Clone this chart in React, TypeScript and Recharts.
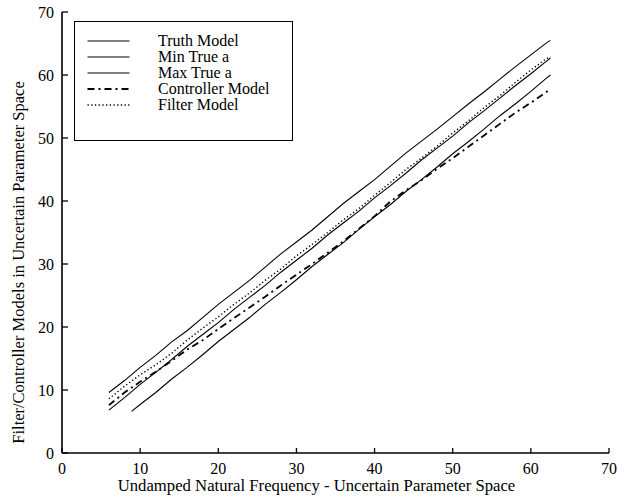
import React from 'react';
import { LineChart, Line, XAxis, YAxis, Legend, Label } from 'recharts';

const SERIF = '"Liberation Serif", "Times New Roman", serif';

const axisTicks = [0, 10, 20, 30, 40, 50, 60, 70];

// frequencies shared by the truth / max / controller / filter traces
const modelFreqs = [
  6, 8, 10, 12, 14, 16, 18, 20, 22, 24, 26, 28, 30, 32, 34, 36, 38, 40, 42, 44,
  46, 48, 50, 52, 54, 56, 58, 60, 62, 62.5,
];

const truthModel = [
  6.8, 8.8, 10.9, 12.8, 14.8, 16.9, 18.8, 20.7, 22.8, 24.7, 26.6, 28.7, 30.6, 32.5, 34.6,
  36.5, 38.4, 40.5, 42.4, 44.4, 46.5, 48.4, 50.3, 52.4, 54.3, 56.3, 58.3, 60.2, 62.2, 62.7,
];

const maxTrueA = [
  9.6, 11.5, 13.6, 15.5, 17.6, 19.4, 21.5, 23.6, 25.5, 27.4, 29.5, 31.6, 33.5, 35.4, 37.5,
  39.6, 41.5, 43.4, 45.5, 47.6, 49.5, 51.4, 53.4, 55.4, 57.3, 59.3, 61.3, 63.2, 65.1, 65.5,
];

const controllerModel = [
  7.6, 9.6, 11.3, 12.9, 14.6, 16.4, 17.9, 19.7, 21.4, 23.1, 24.8, 26.6, 28.3, 30.0, 31.8,
  33.6, 35.6, 37.6, 39.9, 41.7, 43.3, 45.1, 46.8, 48.6, 50.4, 52.2, 54.0, 55.6, 57.3, 57.8,
];

const filterModel = [
  8.6, 10.6, 12.4, 14.0, 15.8, 17.9, 19.8, 21.6, 23.6, 25.4, 27.4, 29.2, 31.3, 33.1, 35.0,
  37.0, 38.8, 40.9, 42.9, 45.0, 46.8, 48.7, 50.8, 52.7, 54.8, 56.7, 58.8, 60.8, 62.6, 62.9,
];

// the lower bound starts a little later
const minTrueFreqs = [
  8.9, 10, 12, 14, 16, 18, 20, 22, 24, 26, 28, 30, 32, 34, 36, 38, 40, 42, 44, 46, 48, 50,
  52, 54, 56, 58, 60, 62, 62.5,
];

const minTrueA = [
  6.6, 7.7, 9.6, 11.7, 13.6, 15.6, 17.7, 19.6, 21.5, 23.6, 25.5, 27.5, 29.6, 31.5, 33.4,
  35.5, 37.5, 39.4, 41.5, 43.4, 45.4, 47.5, 49.4, 51.4, 53.5, 55.4, 57.4, 59.5, 60.0,
];

const toPoints = (xs: number[], ys: number[]) => xs.map((x, i) => ({ x, y: ys[i] }));

const series = [
  { name: 'Truth Model', data: toPoints(modelFreqs, truthModel), width: 1.1, dash: undefined },
  { name: 'Min True a', data: toPoints(minTrueFreqs, minTrueA), width: 1.1, dash: undefined },
  { name: 'Max True a', data: toPoints(modelFreqs, maxTrueA), width: 1.1, dash: undefined },
  { name: 'Controller Model', data: toPoints(modelFreqs, controllerModel), width: 1.8, dash: '7 4 2 4' },
  { name: 'Filter Model', data: toPoints(modelFreqs, filterModel), width: 1.4, dash: '1.3 2.4' },
];

const TICK_MARGIN_X = 10;
const TICK_MARGIN_Y = 8;

const XTick = (props: any) => {
  const { x, y, payload } = props;
  const axisY = y - TICK_MARGIN_X;
  return (
    <g>
      <line x1={x} x2={x} y1={axisY} y2={axisY - 5} stroke="#000" strokeWidth={1.3} />
      <text x={x} y={y} dy="0.71em" textAnchor="middle" fill="#000" fontSize={16} fontFamily={SERIF}>
        {payload.value}
      </text>
    </g>
  );
};

const YTick = (props: any) => {
  const { x, y, payload } = props;
  const axisX = x + TICK_MARGIN_Y;
  return (
    <g>
      <line x1={axisX} x2={axisX + 6} y1={y} y2={y} stroke="#000" strokeWidth={1.3} />
      <text x={x} y={y} dy="0.355em" textAnchor="end" fill="#000" fontSize={16} fontFamily={SERIF}>
        {payload.value}
      </text>
    </g>
  );
};

const LegendBox = () => (
  <div
    style={{
      border: '1.5px solid #000',
      width: 219,
      height: 120,
      boxSizing: 'border-box',
      background: '#fff',
      paddingTop: 11,
      fontFamily: SERIF,
      fontSize: 16,
      color: '#000',
    }}
  >
    {series.map((s) => (
      <div key={s.name} style={{ display: 'flex', alignItems: 'center', height: 16 }}>
        <svg width={70} height={16} style={{ display: 'block' }}>
          <line x1={12.5} x2={54.5} y1={8} y2={8} stroke="#000" strokeWidth={s.width} strokeDasharray={s.dash} />
        </svg>
        <span style={{ marginLeft: 13, lineHeight: '16px', whiteSpace: 'nowrap' }}>{s.name}</span>
      </div>
    ))}
  </div>
);

export default function App() {
  return (
    <div style={{ position: 'absolute', left: 0, top: 0, background: '#fff' }}>
      <LineChart width={635} height={500} margin={{ top: 12, right: 26, bottom: 17, left: 22 }}>
        <XAxis
          dataKey="x"
          type="number"
          domain={[0, 70]}
          ticks={axisTicks}
          interval={0}
          height={30}
          tickSize={0}
          tickMargin={TICK_MARGIN_X}
          tickLine={false}
          tick={<XTick />}
          axisLine={{ stroke: '#000', strokeWidth: 1.6 }}
          allowDuplicatedCategory={false}
        >
          <Label
            content={(props: any) => {
              const vb = props.viewBox;
              return (
                <text
                  x={vb.x + vb.width / 2 - 19}
                  y={vb.y + 38}
                  textAnchor="middle"
                  fontSize={16.7}
                  fontFamily={SERIF}
                  fill="#000"
                >
                  Undamped Natural Frequency - Uncertain Parameter Space
                </text>
              );
            }}
          />
        </XAxis>
        <YAxis
          dataKey="y"
          type="number"
          domain={[0, 70]}
          ticks={axisTicks}
          interval={0}
          width={40}
          tickSize={0}
          tickMargin={TICK_MARGIN_Y}
          tickLine={false}
          tick={<YTick />}
          axisLine={{ stroke: '#000', strokeWidth: 1.6 }}
        >
          <Label
            content={(props: any) => {
              const vb = props.viewBox;
              const cx = vb.x - 4;
              const cy = vb.y + vb.height / 2 + 30;
              return (
                <text
                  x={cx}
                  y={cy}
                  transform={`rotate(-90, ${cx}, ${cy})`}
                  textAnchor="middle"
                  dominantBaseline="central"
                  fontSize={16.5}
                  fontFamily={SERIF}
                  fill="#000"
                >
                  Filter/Controller Models in Uncertain Parameter Space
                </text>
              );
            }}
          />
        </YAxis>
        <Legend
          content={<LegendBox />}
          layout="vertical"
          align="center"
          verticalAlign="middle"
          wrapperStyle={{ left: 74, top: 21, width: 219 }}
        />
        {series.map((s) => (
          <Line
            key={s.name}
            name={s.name}
            data={s.data}
            dataKey="y"
            type="linear"
            stroke="#000"
            strokeWidth={s.width}
            strokeDasharray={s.dash}
            dot={false}
            activeDot={false}
            isAnimationActive={false}
          />
        ))}
      </LineChart>
    </div>
  );
}
